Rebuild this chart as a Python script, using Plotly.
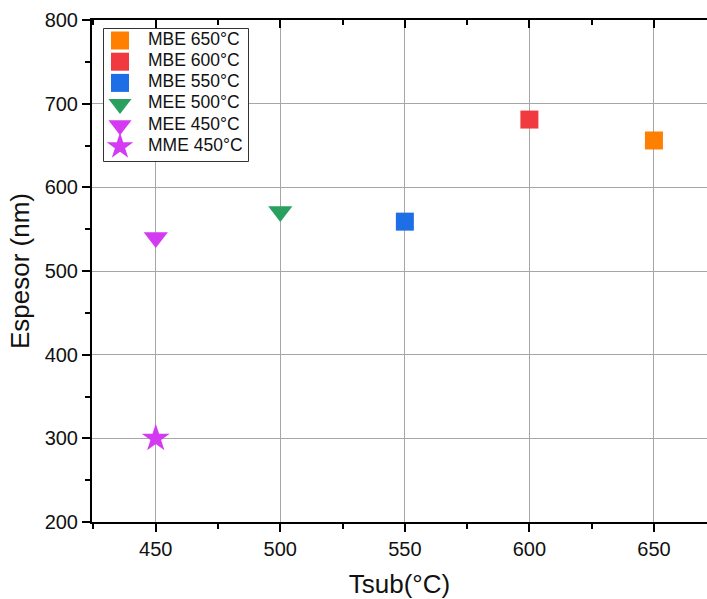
import plotly.graph_objects as go

names = ["MBE 650°C", "MBE 600°C", "MBE 550°C", "MEE 500°C", "MEE 450°C", "MME 450°C"]
tsub = [650, 600, 550, 500, 450, 450]
espesor = [656, 681, 559, 571, 540, 300]
colors = ["#FF8000", "#F03A3F", "#1E6EE6", "#2AA060", "#D53AF3", "#D53AF3"]
symbols = ["square", "square", "square", "triangle-down", "triangle-down", "star"]
sizes = [18, 18, 18, 21, 21, 21]

x_ticks = [450, 500, 550, 600, 650]
y_ticks = [200, 300, 400, 500, 600, 700, 800]

FONT = "Liberation Sans, Arial, sans-serif"

fig = go.Figure()
for n, xv, yv, c, s, sz in zip(names, tsub, espesor, colors, symbols, sizes):
    fig.add_trace(go.Scatter(
        x=[xv], y=[yv], mode="markers", name=n, showlegend=False,
        marker=dict(color=c, symbol=s, size=sz, line=dict(width=0)),
    ))
fig.add_trace(go.Scatter(x=[None], y=[None], xaxis="x2", yaxis="y", showlegend=False, hoverinfo="skip"))

# ---- legend drawn on its own small axes (box from 103..249 px, 28..162 px) ----
W, H = 707, 599
ML, MR, MT, MB = 92, 0, 20, 77
pw, ph = W - ML - MR, H - MT - MB
lx0, lx1, ly0, ly1 = 103, 249, 28, 162
lw, lh = lx1 - lx0, ly1 - ly0
leg_dom_x = [(lx0 - ML) / pw, (lx1 - ML) / pw]
leg_dom_y = [(H - MB - ly1) / ph, (H - MB - ly0) / ph]
row_y = [12.5 + 21.2 * i for i in range(len(names))]

fig.add_trace(go.Scatter(
    x=[0.5, lw - 0.5, lw - 0.5, 0.5, 0.5], y=[0.5, 0.5, lh - 0.5, lh - 0.5, 0.5],
    mode="lines", fill="toself", fillcolor="white",
    line=dict(color="#333333", width=1), xaxis="x3", yaxis="y3",
    showlegend=False, hoverinfo="skip",
))
fig.add_trace(go.Scatter(
    x=[17] * len(names), y=row_y, mode="markers", xaxis="x3", yaxis="y3",
    marker=dict(color=colors, symbol=symbols, size=[min(s, 20) for s in sizes], line=dict(width=0), opacity=1),
    showlegend=False, hoverinfo="skip",
))
fig.add_trace(go.Scatter(
    x=[45] * len(names), y=row_y, mode="text", text=names, textposition="middle right",
    textfont=dict(family=FONT, size=17.5, color="#111111"),
    xaxis="x3", yaxis="y3", showlegend=False, hoverinfo="skip",
))

xr = [424.4, 671.3]
fig.update_layout(
    width=W, height=H,
    margin=dict(l=ML, r=MR, t=MT, b=MB),
    paper_bgcolor="white", plot_bgcolor="white",
    font=dict(family=FONT, color="#111111"),
    showlegend=False,
    xaxis=dict(
        range=xr, tickmode="array", tickvals=x_ticks,
        ticks="outside", ticklen=8, tickwidth=2, tickcolor="black",
        showline=True, linewidth=2, linecolor="black",
        showgrid=True, gridcolor="#a6a6a6", gridwidth=1,
        zeroline=False,
        tickfont=dict(size=20, family=FONT, color="#111111"),
        title=dict(text="Tsub(°C)", font=dict(size=26, family=FONT, color="#111111"), standoff=17),
        minor=dict(ticks="outside", ticklen=5, tickwidth=2, tickcolor="black", dtick=25, tick0=425, showgrid=False),
    ),
    xaxis2=dict(
        range=xr, overlaying="x", side="top", anchor="y",
        tickmode="array", tickvals=x_ticks,
        ticks="inside", ticklen=8, tickwidth=2, tickcolor="black",
        showline=True, linewidth=2, linecolor="black",
        showgrid=False, zeroline=False, showticklabels=False,
        minor=dict(ticks="inside", ticklen=5, tickwidth=2, tickcolor="black", dtick=25, tick0=425, showgrid=False),
    ),
    yaxis=dict(
        range=[200, 800], tickmode="array", tickvals=y_ticks,
        ticks="outside", ticklen=8, tickwidth=2, tickcolor="black",
        showline=True, linewidth=2, linecolor="black",
        showgrid=True, gridcolor="#a6a6a6", gridwidth=1,
        zeroline=False,
        tickfont=dict(size=20, family=FONT, color="#111111"),
        title=dict(text="Espesor (nm)", font=dict(size=26, family=FONT, color="#111111"), standoff=8),
        minor=dict(ticks="outside", ticklen=5, tickwidth=2, tickcolor="black", dtick=50, tick0=200, showgrid=False),
    ),
    xaxis3=dict(domain=leg_dom_x, range=[0, lw], anchor="y3", visible=False, fixedrange=True),
    yaxis3=dict(domain=leg_dom_y, range=[lh, 0], anchor="x3", visible=False, fixedrange=True),
)

fig.write_html("out.html")
